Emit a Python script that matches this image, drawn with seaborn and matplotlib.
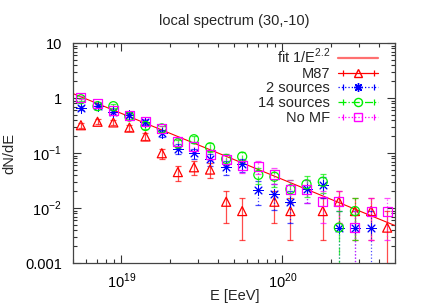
import numpy as np
import matplotlib
matplotlib.use('Agg')
import matplotlib.pyplot as plt
from matplotlib.lines import Line2D
from matplotlib.legend_handler import HandlerLine2D, HandlerTuple
import seaborn as sns

nan = np.nan

# energy bin centres [eV]
energy = [5.6e18, 7.1e18, 8.9e18, 1.12e19, 1.41e19, 1.78e19, 2.24e19, 2.82e19, 3.55e19, 4.47e19,
          5.62e19, 7.08e19, 8.91e19, 1.12e20, 1.41e20, 1.78e20, 2.24e20, 2.82e20, 3.55e20, 4.47e20]

m87 = [0.32, 0.37, 0.36, 0.29, 0.20, 0.099, 0.045, 0.055, 0.050, 0.013,
       0.0088, nan, 0.013, 0.0088, nan, 0.0088, 0.013, 0.0088, 0.0088, 0.0044]
m87_err = [0.038, 0.040, 0.040, 0.036, 0.030, 0.021, 0.014, 0.016, 0.015, 0.0076,
           0.0062, nan, 0.0076, 0.0062, nan, 0.0062, 0.0076, 0.0062, 0.0062, 0.0044]

two_src = [0.65, 0.73, 0.55, 0.49, 0.36, 0.23, 0.12, 0.099, 0.077, 0.055,
           0.062, 0.021, 0.018, 0.013, 0.022, 0.026, 0.0044, 0.0044, 0.0044, nan]
two_src_err = [0.053, 0.056, 0.050, 0.046, 0.040, 0.032, 0.023, 0.021, 0.018, 0.016,
               0.017, 0.0096, 0.0089, 0.0076, 0.0098, 0.011, 0.0044, 0.0044, 0.0044, nan]

many_src = [0.95, 0.71, 0.71, 0.46, 0.31, 0.28, 0.15, 0.178, 0.127, 0.078,
            0.086, 0.040, 0.037, 0.022, 0.027, 0.030, 0.0044, 0.0088, nan, nan]
many_src_err = [0.065, 0.055, 0.056, 0.045, 0.037, 0.035, 0.026, 0.028, 0.024, 0.018,
                0.019, 0.013, 0.013, 0.0098, 0.011, 0.011, 0.0044, 0.0062, nan, nan]

no_mf = [1.03, 0.80, 0.59, 0.49, 0.37, 0.28, 0.16, 0.134, 0.095, 0.077,
         0.060, 0.057, 0.040, 0.022, 0.022, 0.013, 0.013, 0.0044, 0.0088, 0.0088]
no_mf_err = [0.067, 0.060, 0.051, 0.046, 0.040, 0.035, 0.027, 0.024, 0.020, 0.018,
             0.016, 0.016, 0.013, 0.0098, 0.0098, 0.0076, 0.0076, 0.0044, 0.0062, 0.0062]

# power-law fit (counts per log bin ~ E^-1.2, i.e. dN/dE ~ 1/E^2.2)
fit_norm = 0.076
fit_pivot = 5e19
fit_slope = -1.2

sns.set_theme(style='ticks')
plt.rcParams['font.family'] = ['Liberation Sans', 'DejaVu Sans']
plt.rcParams['mathtext.fontset'] = 'custom'
plt.rcParams['mathtext.rm'] = 'Liberation Sans'
plt.rcParams['font.size'] = 9

fig = plt.figure(figsize=(4.39, 3.07), dpi=100)
ax = fig.add_axes([0.1663, 0.1433, 0.7335, 0.7166])
ax.set_xscale('log')
ax.set_yscale('log')

fit_x = np.logspace(np.log10(5e18), np.log10(5e20), 50)
fit_y = fit_norm * (fit_x / fit_pivot) ** fit_slope
sns.lineplot(x=fit_x, y=fit_y, ax=ax, color='#ff0000', lw=0.8, legend=False)

series = [
    ('M87', m87, m87_err, '#ff0000', '-', '^', 6.5),
    ('2 sources', two_src, two_src_err, '#0000ff', ':', (8, 2, 0), 7),
    ('14 sources', many_src, many_src_err, '#00ee00', '-.', 'o', 6.5),
    ('No MF', no_mf, no_mf_err, '#ff00ff', ':', 's', 6.5),
]

handles = [Line2D([], [], color='#ff7070', lw=1.6)]
hmap = {}
for name, vals, errs, col, ls, mk, ms in series:
    eb = ax.errorbar(energy, vals, yerr=errs, fmt='none', ecolor=col, elinewidth=0.9,
                     capsize=2, capthick=0.9, alpha=0.7)
    eb[2][0].set_linestyle(ls)
    star = mk == (8, 2, 0)
    sns.scatterplot(x=energy, y=vals, ax=ax, marker=mk, s=ms ** 2,
                    facecolors=col if star else 'none',
                    edgecolor=col, color=col, linewidth=0.7 if star else 0.9,
                    legend=False, zorder=3)
    main = Line2D([], [], color=col, ls=ls, lw=0.9, marker=mk, ms=ms * 0.9,
                  markerfacecolor='none', markeredgecolor=col)
    caps = Line2D([], [], color=col, ls='none', marker='|', ms=4, markeredgewidth=0.9)
    hmap[main] = HandlerLine2D(numpoints=1)
    hmap[caps] = HandlerLine2D(numpoints=2)
    handles.append((main, caps))

labels = ['fit 1/E$^{2.2}$', 'M87', '2 sources', '14 sources', 'No MF']
hmap[tuple] = HandlerTuple(ndivide=1)
leg = ax.legend(handles, labels, handler_map=hmap, loc='upper right',
                bbox_to_anchor=(0.98, 1.03), frameon=False, markerfirst=False,
                fontsize=10.5, handlelength=2.75, labelspacing=0.05, handletextpad=0.55,
                borderaxespad=0.3)

ax.set_xlim(5e18, 5e20)
ax.set_ylim(0.001, 10)
ax.set_xticks([1e19, 1e20], labels=['10$^{19}$', '10$^{20}$'])
ax.set_yticks([0.001, 0.01, 0.1, 1, 10], labels=['0.001', '10$^{-2}$', '10$^{-1}$', '1', '10'])
ax.tick_params(which='both', direction='in', top=True, right=True, colors='#333333',
               labelcolor='black', labelsize=10.5)
ax.tick_params(which='major', length=6, width=0.8)
ax.tick_params(which='minor', length=3, width=0.8)
ax.tick_params(axis='y', which='major', pad=8)
ax.tick_params(axis='x', which='major', pad=6)
for sp in ax.spines.values():
    sp.set_color('#444444')
    sp.set_linewidth(0.9)

ax.set_title('local spectrum (30,-10)', fontsize=10.5, pad=13)
ax.set_xlabel('E [EeV]', fontsize=10.5)
ax.xaxis.set_label_coords(0.503, -0.12)
ax.set_ylabel('dN/dE', fontsize=10.5, labelpad=6)

fig.savefig('out.png', dpi=100)
